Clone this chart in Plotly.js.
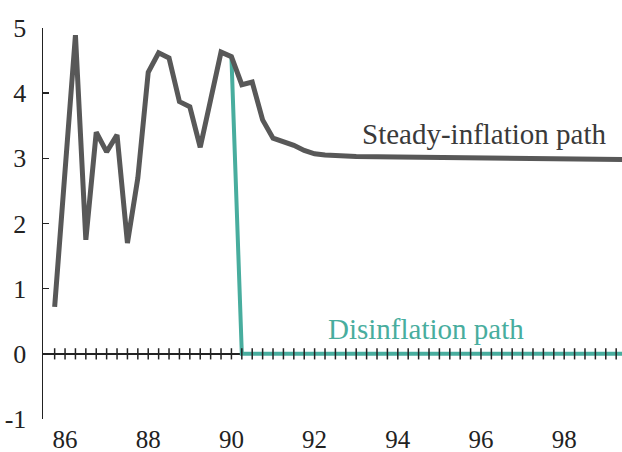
<!DOCTYPE html>
<html>
<head>
<meta charset="utf-8">
<script src="https://cdn.plot.ly/plotly-3.0.1.min.js"></script>
<style>
  html, body { margin: 0; padding: 0; background: #ffffff; }
  #chart { width: 622px; height: 452px; }
</style>
</head>
<body>
<div id="chart"></div>
<script>
// Steady-inflation path (quarterly, year fraction)
var steadyX = [85.75, 86.0, 86.25, 86.5, 86.75, 87.0, 87.25, 87.5, 87.75, 88.0, 88.25, 88.5, 88.75, 89.0, 89.25, 89.5, 89.75, 90.0, 90.25, 90.5, 90.75, 91.0, 91.25, 91.5, 91.75, 92.0, 92.25, 92.5, 93.0, 94.0, 95.0, 96.0, 97.0, 98.0, 99.0, 99.5];
var steadyY = [0.72, 2.8, 4.89, 1.75, 3.40, 3.10, 3.36, 1.70, 2.7, 4.32, 4.62, 4.54, 3.87, 3.79, 3.17, 3.9, 4.63, 4.56, 4.13, 4.17, 3.59, 3.31, 3.26, 3.2, 3.12, 3.07, 3.05, 3.04, 3.03, 3.02, 3.01, 3.0, 2.99, 2.99, 2.98, 2.98];

// Disinflation path
var disinfX = [90.0, 90.25, 99.5];
var disinfY = [4.56, 0, 0];

// Quarterly tick crosses along the zero line
var quarterTicks = [];
for (var q = 85.75; q <= 99.5; q += 0.25) quarterTicks.push(q);
var quarterZeros = quarterTicks.map(function () { return 0; });

// Axis tick labels
var xTickVals = [86, 88, 90, 92, 94, 96, 98];
var xTickText = ['86', '88', '90', '92', '94', '96', '98'];
var yTickVals = [-1, 0, 1, 2, 3, 4, 5];
var yTickText = ['-1', '0', '1', '2', '3', '4', '5'];

// Labels
var labelSteady = 'Steady-inflation path';
var labelDisinf = 'Disinflation path';

var FONT = 'Liberation Serif';

var traces = [
  {
    x: disinfX, y: disinfY, mode: 'lines', type: 'scatter',
    line: { color: '#48ad9e', width: 4 }, hoverinfo: 'skip', showlegend: false
  },
  {
    x: quarterTicks, y: quarterZeros, mode: 'markers', type: 'scatter',
    marker: { symbol: 'line-ns-open', size: 8, color: '#222222', line: { color: '#222222', width: 1.5 } },
    hoverinfo: 'skip', showlegend: false, cliponaxis: false
  },
  {
    x: steadyX, y: steadyY, mode: 'lines', type: 'scatter',
    line: { color: '#585858', width: 5 }, hoverinfo: 'skip', showlegend: false
  }
];

var layout = {
  width: 622, height: 452,
  margin: { l: 43, r: 0, t: 28, b: 33 },
  paper_bgcolor: '#ffffff', plot_bgcolor: '#ffffff',
  font: { family: FONT, size: 25, color: '#222222' },
  showlegend: false,
  xaxis: {
    range: [85.47, 99.39],
    tickvals: xTickVals, ticktext: xTickText,
    showgrid: false, zeroline: false, showline: false,
    ticks: '', ticklabelstandoff: 3,
    tickfont: { family: FONT, size: 25, color: '#222222' }
  },
  yaxis: {
    range: [-1, 5],
    tickvals: yTickVals, ticktext: yTickText,
    showgrid: false,
    zeroline: true, zerolinecolor: '#222222', zerolinewidth: 1.5,
    showline: true, linecolor: '#222222', linewidth: 1.5,
    ticks: 'inside', ticklen: 6, tickwidth: 1.5, tickcolor: '#222222',
    ticklabelstandoff: 10,
    tickfont: { family: FONT, size: 26, color: '#222222' }
  },
  annotations: [
    {
      x: 93.1, y: 3.37, xref: 'x', yref: 'y', xanchor: 'left', yanchor: 'middle',
      text: labelSteady, showarrow: false,
      font: { family: FONT, size: 29, color: '#3a3a3a' }
    },
    {
      x: 92.27, y: 0.38, xref: 'x', yref: 'y', xanchor: 'left', yanchor: 'middle',
      text: labelDisinf, showarrow: false,
      font: { family: FONT, size: 29, color: '#48ad9e' }
    }
  ]
};

Plotly.newPlot('chart', traces, layout, { staticPlot: true, displayModeBar: false });
</script>
</body>
</html>
